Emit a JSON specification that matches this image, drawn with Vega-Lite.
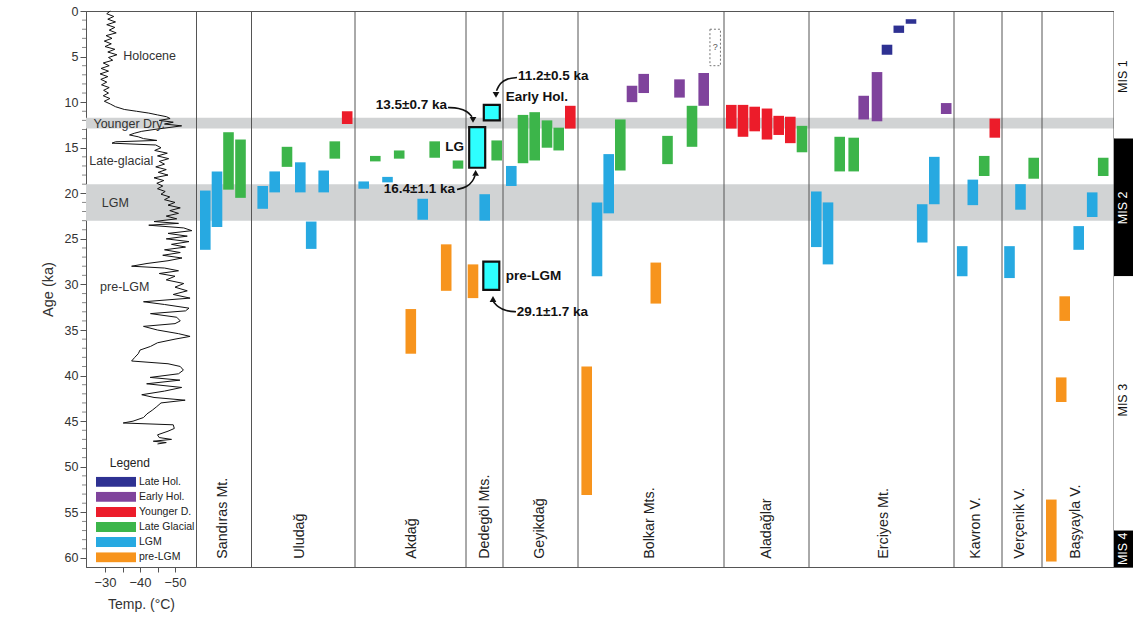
{
  "$schema": "https://vega.github.io/schema/vega-lite/v6.json",
  "width": 1047,
  "height": 556,
  "autosize": {"type": "none"},
  "padding": {"left": 86, "top": 11, "right": 0, "bottom": 52},
  "background": "white",
  "config": {
    "view": {"stroke": "#555", "strokeWidth": 1},
    "font": "Liberation Sans",
    "axis": {"grid": false}
  },
  "resolve": {"scale": {"x": "independent"}},
  "datasets": {
    "bands": [
      {"name": "Younger Dryas", "start": 11.7, "end": 12.9},
      {"name": "LGM", "start": 19.0, "end": 23.0}
    ],
    "separators": [
      {"pos": 0.5}, {"pos": 55.5}, {"pos": 159}, {"pos": 270}, {"pos": 307}, {"pos": 382},
      {"pos": 528}, {"pos": 613}, {"pos": 758}, {"pos": 806}, {"pos": 846}, {"pos": 918}
    ],
    "sites": [
      {"site": "Sandıras Mt.", "pos": 27},
      {"site": "Uludağ", "pos": 104},
      {"site": "Akdağ", "pos": 215.7},
      {"site": "Dedegöl Mts.", "pos": 289},
      {"site": "Geyikdağ", "pos": 344},
      {"site": "Bolkar Mts.", "pos": 454},
      {"site": "Aladağlar", "pos": 570.7},
      {"site": "Erciyes Mt.", "pos": 688},
      {"site": "Kavron V.", "pos": 780},
      {"site": "Verçenik V.", "pos": 824},
      {"site": "Başyayla V.", "pos": 880}
    ],
    "bars": [
      {"site": "Sandıras Mt.", "period": "LGM", "pos": 9.3, "start": 19.7, "end": 26.2},
      {"site": "Sandıras Mt.", "period": "LGM", "pos": 21, "start": 17.6, "end": 23.7},
      {"site": "Sandıras Mt.", "period": "Late Glacial", "pos": 32.5, "start": 13.3, "end": 19.6},
      {"site": "Sandıras Mt.", "period": "Late Glacial", "pos": 44.5, "start": 14.1, "end": 20.5},
      {"site": "Uludağ", "period": "LGM", "pos": 66.7, "start": 19.2, "end": 21.7},
      {"site": "Uludağ", "period": "LGM", "pos": 78.7, "start": 17.6, "end": 19.9},
      {"site": "Uludağ", "period": "Late Glacial", "pos": 91, "start": 14.9, "end": 17.1},
      {"site": "Uludağ", "period": "LGM", "pos": 104.3, "start": 16.6, "end": 19.9},
      {"site": "Uludağ", "period": "LGM", "pos": 115.2, "start": 23.1, "end": 26.1},
      {"site": "Uludağ", "period": "LGM", "pos": 127.7, "start": 17.5, "end": 19.9},
      {"site": "Uludağ", "period": "Late Glacial", "pos": 138.8, "start": 14.3, "end": 16.2},
      {"site": "Uludağ", "period": "Younger D.", "pos": 151.2, "start": 11.0, "end": 12.4},
      {"site": "Akdağ", "period": "LGM", "pos": 167.7, "start": 18.7, "end": 19.5},
      {"site": "Akdağ", "period": "Late Glacial", "pos": 179.3, "start": 15.9, "end": 16.5},
      {"site": "Akdağ", "period": "LGM", "pos": 191.5, "start": 18.2, "end": 18.8},
      {"site": "Akdağ", "period": "Late Glacial", "pos": 203.2, "start": 15.3, "end": 16.2},
      {"site": "Akdağ", "period": "pre-LGM", "pos": 214.8, "start": 32.7, "end": 37.6},
      {"site": "Akdağ", "period": "LGM", "pos": 226.7, "start": 20.6, "end": 22.9},
      {"site": "Akdağ", "period": "Late Glacial", "pos": 238.7, "start": 14.3, "end": 16.1},
      {"site": "Akdağ", "period": "pre-LGM", "pos": 250.2, "start": 25.6, "end": 30.7},
      {"site": "Akdağ", "period": "Late Glacial", "pos": 262, "start": 16.4, "end": 17.3},
      {"site": "Dedegöl Mts.", "period": "pre-LGM", "pos": 277, "start": 27.8, "end": 31.5},
      {"site": "Dedegöl Mts.", "period": "LGM", "pos": 288.7, "start": 20.1, "end": 23.0},
      {"site": "Dedegöl Mts.", "period": "Late Glacial", "pos": 300.7, "start": 14.2, "end": 16.4},
      {"site": "Geyikdağ", "period": "LGM", "pos": 315.3, "start": 17.0, "end": 19.2},
      {"site": "Geyikdağ", "period": "Late Glacial", "pos": 327, "start": 11.4, "end": 16.7},
      {"site": "Geyikdağ", "period": "Late Glacial", "pos": 338.7, "start": 11.1, "end": 16.4},
      {"site": "Geyikdağ", "period": "Late Glacial", "pos": 351, "start": 12.0, "end": 15.0},
      {"site": "Geyikdağ", "period": "Late Glacial", "pos": 362.7, "start": 12.8, "end": 15.3},
      {"site": "Geyikdağ", "period": "Younger D.", "pos": 374.3, "start": 10.4, "end": 12.9},
      {"site": "Bolkar Mts.", "period": "pre-LGM", "pos": 390.7, "start": 39.0, "end": 53.1},
      {"site": "Bolkar Mts.", "period": "LGM", "pos": 401, "start": 21.0, "end": 29.1},
      {"site": "Bolkar Mts.", "period": "LGM", "pos": 412.7, "start": 15.7, "end": 22.2},
      {"site": "Bolkar Mts.", "period": "Late Glacial", "pos": 424.3, "start": 11.9, "end": 17.5},
      {"site": "Bolkar Mts.", "period": "Early Hol.", "pos": 436, "start": 8.2, "end": 10.0},
      {"site": "Bolkar Mts.", "period": "Early Hol.", "pos": 447.7, "start": 6.9, "end": 9.0},
      {"site": "Bolkar Mts.", "period": "pre-LGM", "pos": 459.8, "start": 27.6, "end": 32.1},
      {"site": "Bolkar Mts.", "period": "Late Glacial", "pos": 471.5, "start": 13.7, "end": 16.8},
      {"site": "Bolkar Mts.", "period": "Early Hol.", "pos": 483.5, "start": 7.5, "end": 9.5},
      {"site": "Bolkar Mts.", "period": "Late Glacial", "pos": 496, "start": 10.4, "end": 14.9},
      {"site": "Bolkar Mts.", "period": "Early Hol.", "pos": 507.7, "start": 6.8, "end": 10.4},
      {"site": "Aladağlar", "period": "Younger D.", "pos": 535.3, "start": 10.3, "end": 12.9},
      {"site": "Aladağlar", "period": "Younger D.", "pos": 547, "start": 10.3, "end": 13.8},
      {"site": "Aladağlar", "period": "Younger D.", "pos": 558.7, "start": 10.5, "end": 13.2},
      {"site": "Aladağlar", "period": "Younger D.", "pos": 571, "start": 10.7, "end": 14.1},
      {"site": "Aladağlar", "period": "Younger D.", "pos": 582.7, "start": 11.5, "end": 13.6},
      {"site": "Aladağlar", "period": "Younger D.", "pos": 594.3, "start": 11.6, "end": 14.5},
      {"site": "Aladağlar", "period": "Late Glacial", "pos": 606, "start": 12.6, "end": 15.5},
      {"site": "Erciyes Mt.", "period": "LGM", "pos": 620.3, "start": 19.8, "end": 25.9},
      {"site": "Erciyes Mt.", "period": "LGM", "pos": 632, "start": 21.0, "end": 27.8},
      {"site": "Erciyes Mt.", "period": "Late Glacial", "pos": 643.7, "start": 13.8, "end": 17.6},
      {"site": "Erciyes Mt.", "period": "Late Glacial", "pos": 657.7, "start": 13.9, "end": 17.6},
      {"site": "Erciyes Mt.", "period": "Early Hol.", "pos": 667.7, "start": 9.3, "end": 11.9},
      {"site": "Erciyes Mt.", "period": "Early Hol.", "pos": 681, "start": 6.7, "end": 12.1},
      {"site": "Erciyes Mt.", "period": "Late Hol.", "pos": 691, "start": 3.7, "end": 4.8},
      {"site": "Erciyes Mt.", "period": "Late Hol.", "pos": 702.8, "start": 1.6, "end": 2.4},
      {"site": "Erciyes Mt.", "period": "Late Hol.", "pos": 715, "start": 0.9, "end": 1.4},
      {"site": "Erciyes Mt.", "period": "LGM", "pos": 726.2, "start": 21.2, "end": 25.4},
      {"site": "Erciyes Mt.", "period": "LGM", "pos": 738.3, "start": 16.0, "end": 21.2},
      {"site": "Erciyes Mt.", "period": "Early Hol.", "pos": 750.2, "start": 10.1, "end": 11.3},
      {"site": "Kavron V.", "period": "LGM", "pos": 766.2, "start": 25.8, "end": 29.1},
      {"site": "Kavron V.", "period": "LGM", "pos": 776.8, "start": 18.5, "end": 21.3},
      {"site": "Kavron V.", "period": "Late Glacial", "pos": 788.2, "start": 15.9, "end": 18.1},
      {"site": "Kavron V.", "period": "Younger D.", "pos": 798.8, "start": 11.8, "end": 13.9},
      {"site": "Verçenik V.", "period": "LGM", "pos": 813.5, "start": 25.8, "end": 29.3},
      {"site": "Verçenik V.", "period": "LGM", "pos": 824.5, "start": 19.0, "end": 21.8},
      {"site": "Verçenik V.", "period": "Late Glacial", "pos": 837.7, "start": 16.1, "end": 18.4},
      {"site": "Başyayla V.", "period": "pre-LGM", "pos": 855.3, "start": 53.6, "end": 60.4},
      {"site": "Başyayla V.", "period": "pre-LGM", "pos": 865.2, "start": 40.2, "end": 42.9},
      {"site": "Başyayla V.", "period": "pre-LGM", "pos": 868.7, "start": 31.3, "end": 34.0},
      {"site": "Başyayla V.", "period": "LGM", "pos": 882.7, "start": 23.6, "end": 26.2},
      {"site": "Başyayla V.", "period": "LGM", "pos": 896.2, "start": 19.9, "end": 22.6},
      {"site": "Başyayla V.", "period": "Late Glacial", "pos": 907.2, "start": 16.1, "end": 18.1}
    ],
    "boxes": [
      {"label": "LG", "pos": 281.2, "start": 12.75, "end": 17.2},
      {"label": "Early Hol.", "pos": 295.8, "start": 10.3, "end": 12.0},
      {"label": "pre-LGM", "pos": 295.3, "start": 27.5, "end": 30.6}
    ],
    "uncertain": [
      {"label": "?", "pos": 519.2, "start": 2.0, "end": 6.0, "mid": 3.95}
    ],
    "mis": [
      {"mis": "MIS 1", "start": 0, "end": 14.0, "mid": 7.2, "dark": false},
      {"mis": "MIS 2", "start": 14.0, "end": 29.1, "mid": 21.6, "dark": true},
      {"mis": "MIS 3", "start": 29.1, "end": 57.0, "mid": 42.7, "dark": false},
      {"mis": "MIS 4", "start": 57.0, "end": 61.0, "mid": 59.0, "dark": true}
    ],
    "notesRight": [
      {"text": "13.5±0.7 ka", "pos": 251, "age": 10.32},
      {"text": "LG", "pos": 268, "age": 14.9},
      {"text": "16.4±1.1 ka", "pos": 259, "age": 19.5}
    ],
    "notesLeft": [
      {"text": "11.2±0.5 ka", "pos": 322, "age": 7.1},
      {"text": "Early Hol.", "pos": 309.7, "age": 9.4},
      {"text": "pre-LGM", "pos": 309.7, "age": 29.1},
      {"text": "29.1±1.7 ka", "pos": 320.7, "age": 33.0}
    ],
    "arrows": [
      {"arrow": "a1", "seq": 1, "pos": 252, "age": 10.59},
      {"arrow": "a1", "seq": 2, "pos": 263, "age": 10.65},
      {"arrow": "a1", "seq": 3, "pos": 271, "age": 10.98},
      {"arrow": "a1", "seq": 4, "pos": 276, "age": 11.6},
      {"arrow": "a2", "seq": 1, "pos": 261, "age": 19.59},
      {"arrow": "a2", "seq": 2, "pos": 271, "age": 19.32},
      {"arrow": "a2", "seq": 3, "pos": 277, "age": 18.66},
      {"arrow": "a2", "seq": 4, "pos": 279, "age": 18.05},
      {"arrow": "a3", "seq": 1, "pos": 321, "age": 7.3},
      {"arrow": "a3", "seq": 2, "pos": 311, "age": 7.41},
      {"arrow": "a3", "seq": 3, "pos": 304, "age": 7.9},
      {"arrow": "a3", "seq": 4, "pos": 300.5, "age": 8.75},
      {"arrow": "a4", "seq": 1, "pos": 320, "age": 32.99},
      {"arrow": "a4", "seq": 2, "pos": 310, "age": 32.93},
      {"arrow": "a4", "seq": 3, "pos": 302, "age": 32.49},
      {"arrow": "a4", "seq": 4, "pos": 297.5, "age": 31.9}
    ],
    "heads": [
      {"arrow": "a1", "dir": "down", "pos": 277, "age": 11.95},
      {"arrow": "a2", "dir": "up", "pos": 279.6, "age": 17.75},
      {"arrow": "a3", "dir": "down", "pos": 300, "age": 9.2},
      {"arrow": "a4", "dir": "up", "pos": 297, "age": 31.6}
    ],
    "periodLabels": [
      {"label": "Holocene", "temp": -35.2, "age": 4.9},
      {"label": "Younger Dry.", "temp": -26.7, "age": 12.4},
      {"label": "Late-glacial", "temp": -25.5, "age": 16.5},
      {"label": "LGM", "temp": -29.1, "age": 21.1},
      {"label": "pre-LGM", "temp": -28.6, "age": 30.3}
    ],
    "minorTicks": [
      {"m": 1}, {"m": 2}, {"m": 3}, {"m": 4}, {"m": 6}, {"m": 7}, {"m": 8}, {"m": 9},
      {"m": 11}, {"m": 12}, {"m": 13}, {"m": 14}, {"m": 16}, {"m": 17}, {"m": 18}, {"m": 19},
      {"m": 21}, {"m": 22}, {"m": 23}, {"m": 24}, {"m": 26}, {"m": 27}, {"m": 28}, {"m": 29},
      {"m": 31}, {"m": 32}, {"m": 33}, {"m": 34}, {"m": 36}, {"m": 37}, {"m": 38}, {"m": 39},
      {"m": 41}, {"m": 42}, {"m": 43}, {"m": 44}, {"m": 46}, {"m": 47}, {"m": 48}, {"m": 49},
      {"m": 51}, {"m": 52}, {"m": 53}, {"m": 54}, {"m": 56}, {"m": 57}, {"m": 58}, {"m": 59}
    ],
    "temperature": [
      {"age": 0.0, "temp": -31.5}, {"age": 0.3, "temp": -30.5}, {"age": 0.6, "temp": -32.5},
      {"age": 0.9, "temp": -30.8}, {"age": 1.2, "temp": -33.0}, {"age": 1.5, "temp": -30.5},
      {"age": 1.8, "temp": -32.8}, {"age": 2.1, "temp": -31.2}, {"age": 2.4, "temp": -33.2},
      {"age": 2.7, "temp": -30.3}, {"age": 3.0, "temp": -32.0}, {"age": 3.3, "temp": -29.8},
      {"age": 3.6, "temp": -31.8}, {"age": 3.9, "temp": -30.0}, {"age": 4.2, "temp": -32.8},
      {"age": 4.5, "temp": -30.8}, {"age": 4.8, "temp": -33.4}, {"age": 5.1, "temp": -31.0},
      {"age": 5.4, "temp": -32.2}, {"age": 5.7, "temp": -29.5}, {"age": 6.0, "temp": -31.2},
      {"age": 6.3, "temp": -28.9}, {"age": 6.6, "temp": -31.0}, {"age": 6.9, "temp": -28.6},
      {"age": 7.2, "temp": -30.8}, {"age": 7.5, "temp": -28.8}, {"age": 7.8, "temp": -30.5},
      {"age": 8.1, "temp": -29.0}, {"age": 8.4, "temp": -31.2}, {"age": 8.7, "temp": -29.6},
      {"age": 9.0, "temp": -31.0}, {"age": 9.3, "temp": -29.5}, {"age": 9.6, "temp": -31.4},
      {"age": 9.9, "temp": -29.8}, {"age": 10.2, "temp": -31.5}, {"age": 10.5, "temp": -33.0},
      {"age": 10.8, "temp": -35.5}, {"age": 11.0, "temp": -39.0}, {"age": 11.2, "temp": -42.5},
      {"age": 11.4, "temp": -45.0}, {"age": 11.6, "temp": -47.6}, {"age": 11.8, "temp": -48.6},
      {"age": 12.0, "temp": -45.5}, {"age": 12.2, "temp": -49.5}, {"age": 12.4, "temp": -47.0},
      {"age": 12.6, "temp": -51.9}, {"age": 12.8, "temp": -48.0}, {"age": 13.0, "temp": -44.0},
      {"age": 13.2, "temp": -40.5}, {"age": 13.4, "temp": -38.5}, {"age": 13.6, "temp": -37.0},
      {"age": 13.8, "temp": -39.5}, {"age": 14.0, "temp": -41.0}, {"age": 14.2, "temp": -44.8},
      {"age": 14.35, "temp": -33.0}, {"age": 14.5, "temp": -32.0}, {"age": 14.6, "temp": -38.0},
      {"age": 14.7, "temp": -44.5}, {"age": 15.0, "temp": -46.0}, {"age": 15.3, "temp": -44.2},
      {"age": 15.6, "temp": -47.8}, {"age": 15.9, "temp": -45.0}, {"age": 16.2, "temp": -48.2},
      {"age": 16.5, "temp": -45.5}, {"age": 16.8, "temp": -47.0}, {"age": 17.1, "temp": -44.5},
      {"age": 17.4, "temp": -47.5}, {"age": 17.7, "temp": -45.2}, {"age": 18.0, "temp": -48.0},
      {"age": 18.3, "temp": -44.0}, {"age": 18.6, "temp": -46.8}, {"age": 18.9, "temp": -44.8},
      {"age": 19.2, "temp": -46.5}, {"age": 19.5, "temp": -45.0}, {"age": 19.8, "temp": -47.2},
      {"age": 20.1, "temp": -46.0}, {"age": 20.4, "temp": -48.5}, {"age": 20.7, "temp": -47.0},
      {"age": 21.0, "temp": -50.0}, {"age": 21.3, "temp": -48.0}, {"age": 21.6, "temp": -51.5},
      {"age": 21.9, "temp": -48.5}, {"age": 22.2, "temp": -51.0}, {"age": 22.5, "temp": -47.5},
      {"age": 22.8, "temp": -50.5}, {"age": 23.1, "temp": -44.0}, {"age": 23.3, "temp": -51.0},
      {"age": 23.5, "temp": -42.5}, {"age": 23.8, "temp": -52.5}, {"age": 24.1, "temp": -54.8},
      {"age": 24.4, "temp": -48.0}, {"age": 24.7, "temp": -53.5}, {"age": 25.0, "temp": -47.5},
      {"age": 25.3, "temp": -54.0}, {"age": 25.6, "temp": -49.0}, {"age": 25.9, "temp": -53.0},
      {"age": 26.2, "temp": -47.0}, {"age": 26.5, "temp": -51.5}, {"age": 26.8, "temp": -46.5},
      {"age": 27.1, "temp": -52.0}, {"age": 27.4, "temp": -48.0}, {"age": 27.7, "temp": -42.0},
      {"age": 28.0, "temp": -37.6}, {"age": 28.2, "temp": -47.0}, {"age": 28.5, "temp": -51.0},
      {"age": 28.8, "temp": -45.5}, {"age": 29.1, "temp": -50.0}, {"age": 29.5, "temp": -47.5},
      {"age": 29.9, "temp": -52.5}, {"age": 30.3, "temp": -50.0}, {"age": 30.7, "temp": -53.5},
      {"age": 31.1, "temp": -49.5}, {"age": 31.5, "temp": -54.3}, {"age": 31.9, "temp": -41.0},
      {"age": 32.2, "temp": -47.0}, {"age": 32.6, "temp": -54.0}, {"age": 32.9, "temp": -53.0},
      {"age": 33.2, "temp": -43.0}, {"age": 33.6, "temp": -50.5}, {"age": 34.0, "temp": -51.5},
      {"age": 34.3, "temp": -50.0}, {"age": 34.6, "temp": -41.0}, {"age": 35.0, "temp": -45.0},
      {"age": 35.4, "temp": -51.0}, {"age": 35.7, "temp": -54.3}, {"age": 36.0, "temp": -50.0},
      {"age": 36.4, "temp": -45.0}, {"age": 36.8, "temp": -43.0}, {"age": 37.2, "temp": -40.0},
      {"age": 37.6, "temp": -39.5}, {"age": 38.0, "temp": -38.5}, {"age": 38.4, "temp": -37.6},
      {"age": 38.7, "temp": -48.0}, {"age": 39.0, "temp": -51.5}, {"age": 39.4, "temp": -52.4},
      {"age": 39.8, "temp": -51.0}, {"age": 40.2, "temp": -42.9}, {"age": 40.5, "temp": -51.4},
      {"age": 40.9, "temp": -41.9}, {"age": 41.3, "temp": -51.9}, {"age": 41.7, "temp": -47.0},
      {"age": 42.1, "temp": -40.5}, {"age": 42.4, "temp": -44.0}, {"age": 42.7, "temp": -52.9},
      {"age": 43.0, "temp": -46.0}, {"age": 43.4, "temp": -44.8}, {"age": 43.8, "temp": -43.5},
      {"age": 44.2, "temp": -42.0}, {"age": 44.6, "temp": -41.0}, {"age": 45.0, "temp": -38.0},
      {"age": 45.2, "temp": -35.2}, {"age": 45.4, "temp": -49.5}, {"age": 45.8, "temp": -49.8},
      {"age": 46.1, "temp": -48.0}, {"age": 46.5, "temp": -45.0}, {"age": 46.8, "temp": -45.5},
      {"age": 47.0, "temp": -49.0}, {"age": 47.2, "temp": -43.8}, {"age": 47.35, "temp": -47.5},
      {"age": 47.5, "temp": -45.0}
    ]
  },
  "layer": [
    {
      "data": {"name": "bands"},
      "mark": {"type": "rect", "color": "#D1D3D4"},
      "encoding": {
        "y": {
          "field": "start", "type": "quantitative",
          "scale": {"domain": [0, 61], "reverse": true, "nice": false, "zero": false},
          "axis": {
            "title": "Age (ka)", "values": [0, 5, 10, 15, 20, 25, 30, 35, 40, 45, 50, 55, 60],
            "labelFontSize": 12.5, "labelColor": "#333", "tickSize": 6, "tickColor": "#555",
            "domainColor": "#555", "labelPadding": 2, "titleFontSize": 14.5,
            "titleFontWeight": "normal", "titleColor": "#333", "titlePadding": 9
          }
        },
        "y2": {"field": "end"}
      }
    },
    {
      "layer": [
        {
          "data": {"name": "separators"},
          "mark": {"type": "rule", "color": "#555", "strokeWidth": 1},
          "encoding": {
            "x": {"field": "pos", "type": "quantitative", "scale": {"domain": [-110, 937], "nice": false, "zero": false, "padding": 0}, "axis": null}
          }
        },
        {
          "data": {"name": "mis"},
          "mark": {"type": "rect"},
          "encoding": {
            "x": {"datum": 918, "type": "quantitative", "scale": {"domain": [-110, 937], "nice": false, "zero": false, "padding": 0}, "axis": null},
            "x2": {"datum": 937},
            "y": {"field": "start", "type": "quantitative"},
            "y2": {"field": "end"},
            "fill": {"condition": {"test": "datum.dark", "value": "#000000"}, "value": "#ffffff"}
          }
        },
        {
          "data": {"name": "mis"},
          "mark": {"type": "text", "angle": 270, "align": "center", "baseline": "middle", "fontSize": 12.5},
          "encoding": {
            "x": {"datum": 927.3, "type": "quantitative", "scale": {"domain": [-110, 937], "nice": false, "zero": false, "padding": 0}, "axis": null},
            "y": {"field": "mid", "type": "quantitative"},
            "text": {"field": "mis"},
            "fill": {"condition": {"test": "datum.dark", "value": "#ffffff"}, "value": "#111111"}
          }
        },
        {
          "data": {"name": "bars"},
          "mark": {"type": "bar", "width": 10.6},
          "encoding": {
            "x": {"field": "pos", "type": "quantitative", "scale": {"domain": [-110, 937], "nice": false, "zero": false, "padding": 0}, "axis": null},
            "y": {"field": "start", "type": "quantitative"},
            "y2": {"field": "end"},
            "color": {
              "field": "period", "type": "nominal",
              "scale": {
                "domain": ["Late Hol.", "Early Hol.", "Younger D.", "Late Glacial", "LGM", "pre-LGM"],
                "range": ["#2E3192", "#7F439C", "#EC1C2A", "#3CB54A", "#27A9E1", "#F7941D"]
              },
              "legend": {
                "orient": "none", "legendX": 10, "legendY": 465.7, "title": null,
                "symbolType": "M-1,-0.25H1V0.25H-1Z", "symbolSize": 1600, "clipHeight": 10,
                "rowPadding": 4.1, "labelFontSize": 10.5, "labelOffset": 3, "labelColor": "#222",
                "padding": 0, "symbolStrokeWidth": 0, "symbolOpacity": 1
              }
            }
          }
        },
        {
          "data": {"name": "boxes"},
          "mark": {"type": "bar", "width": 16, "fill": "#2EFFFF", "stroke": "#111111", "strokeWidth": 2.2},
          "encoding": {
            "x": {"field": "pos", "type": "quantitative", "scale": {"domain": [-110, 937], "nice": false, "zero": false, "padding": 0}, "axis": null},
            "y": {"field": "start", "type": "quantitative"},
            "y2": {"field": "end"}
          }
        },
        {
          "data": {"name": "uncertain"},
          "mark": {"type": "bar", "width": 10.5, "filled": false, "stroke": "#777777", "strokeWidth": 1, "strokeDash": [2, 2]},
          "encoding": {
            "x": {"field": "pos", "type": "quantitative", "scale": {"domain": [-110, 937], "nice": false, "zero": false, "padding": 0}, "axis": null},
            "y": {"field": "start", "type": "quantitative"},
            "y2": {"field": "end"}
          }
        },
        {
          "data": {"name": "uncertain"},
          "mark": {"type": "text", "fontSize": 9, "fill": "#555", "align": "center", "baseline": "middle"},
          "encoding": {
            "x": {"field": "pos", "type": "quantitative", "scale": {"domain": [-110, 937], "nice": false, "zero": false, "padding": 0}, "axis": null},
            "y": {"field": "mid", "type": "quantitative"},
            "text": {"field": "label"}
          }
        },
        {
          "data": {"name": "sites"},
          "mark": {"type": "text", "angle": 270, "align": "left", "baseline": "middle", "fontSize": 14.3, "fill": "#222"},
          "encoding": {
            "x": {"field": "pos", "type": "quantitative", "scale": {"domain": [-110, 937], "nice": false, "zero": false, "padding": 0}, "axis": null},
            "y": {"datum": 60.1, "type": "quantitative"},
            "text": {"field": "site"}
          }
        },
        {
          "data": {"name": "notesRight"},
          "mark": {"type": "text", "align": "right", "baseline": "middle", "fontSize": 13.5, "fontWeight": "bold", "fill": "#111"},
          "encoding": {
            "x": {"field": "pos", "type": "quantitative", "scale": {"domain": [-110, 937], "nice": false, "zero": false, "padding": 0}, "axis": null},
            "y": {"field": "age", "type": "quantitative"},
            "text": {"field": "text"}
          }
        },
        {
          "data": {"name": "notesLeft"},
          "mark": {"type": "text", "align": "left", "baseline": "middle", "fontSize": 13.5, "fontWeight": "bold", "fill": "#111"},
          "encoding": {
            "x": {"field": "pos", "type": "quantitative", "scale": {"domain": [-110, 937], "nice": false, "zero": false, "padding": 0}, "axis": null},
            "y": {"field": "age", "type": "quantitative"},
            "text": {"field": "text"}
          }
        },
        {
          "data": {"name": "arrows"},
          "mark": {"type": "line", "interpolate": "basis", "color": "#111", "strokeWidth": 1.6},
          "encoding": {
            "x": {"field": "pos", "type": "quantitative", "scale": {"domain": [-110, 937], "nice": false, "zero": false, "padding": 0}, "axis": null},
            "y": {"field": "age", "type": "quantitative"},
            "detail": {"field": "arrow"},
            "order": {"field": "seq", "type": "quantitative"}
          }
        },
        {
          "data": {"name": "heads"},
          "mark": {"type": "point", "filled": true, "color": "#111", "size": 45, "opacity": 1},
          "encoding": {
            "x": {"field": "pos", "type": "quantitative", "scale": {"domain": [-110, 937], "nice": false, "zero": false, "padding": 0}, "axis": null},
            "y": {"field": "age", "type": "quantitative"},
            "shape": {"field": "dir", "type": "nominal", "scale": {"domain": ["down", "up"], "range": ["triangle-down", "triangle-up"]}, "legend": null}
          }
        }
      ]
    },
    {
      "layer": [
        {
          "data": {"name": "temperature"},
          "mark": {"type": "line", "color": "#111", "strokeWidth": 1},
          "encoding": {
            "x": {
              "field": "temp", "type": "quantitative",
              "scale": {"domain": [-56, -24.57], "reverse": true, "range": [0, 110], "nice": false, "zero": false},
              "axis": {
                "orient": "bottom", "title": "Temp. (°C)", "values": [-30, -35, -40, -45, -50],
                "labelExpr": "datum.value % 10 === 0 ? datum.label : ''",
                "labelFontSize": 13, "labelColor": "#333", "tickSize": 5, "tickColor": "#555",
                "domainColor": "#555", "labelPadding": 4, "titleFontSize": 14,
                "titleFontWeight": "normal", "titleColor": "#333", "titlePadding": 8
              }
            },
            "y": {"field": "age", "type": "quantitative"},
            "order": {"field": "age", "type": "quantitative"}
          }
        },
        {
          "data": {"name": "periodLabels"},
          "mark": {"type": "text", "align": "left", "baseline": "middle", "fontSize": 12.5, "fill": "#333"},
          "encoding": {
            "x": {"field": "temp", "type": "quantitative"},
            "y": {"field": "age", "type": "quantitative"},
            "text": {"field": "label"}
          }
        },
        {
          "data": {"values": [{"label": "Legend"}]},
          "mark": {"type": "text", "align": "center", "baseline": "middle", "fontSize": 12, "fill": "#222"},
          "encoding": {
            "x": {"datum": -37.1, "type": "quantitative"},
            "y": {"datum": 49.6, "type": "quantitative"},
            "text": {"field": "label"}
          }
        },
        {
          "data": {"name": "minorTicks"},
          "mark": {"type": "tick", "orient": "horizontal", "size": 4, "thickness": 1, "color": "#555"},
          "encoding": {
            "x": {"datum": -24.0, "type": "quantitative"},
            "y": {"field": "m", "type": "quantitative"}
          }
        }
      ]
    }
  ]
}
